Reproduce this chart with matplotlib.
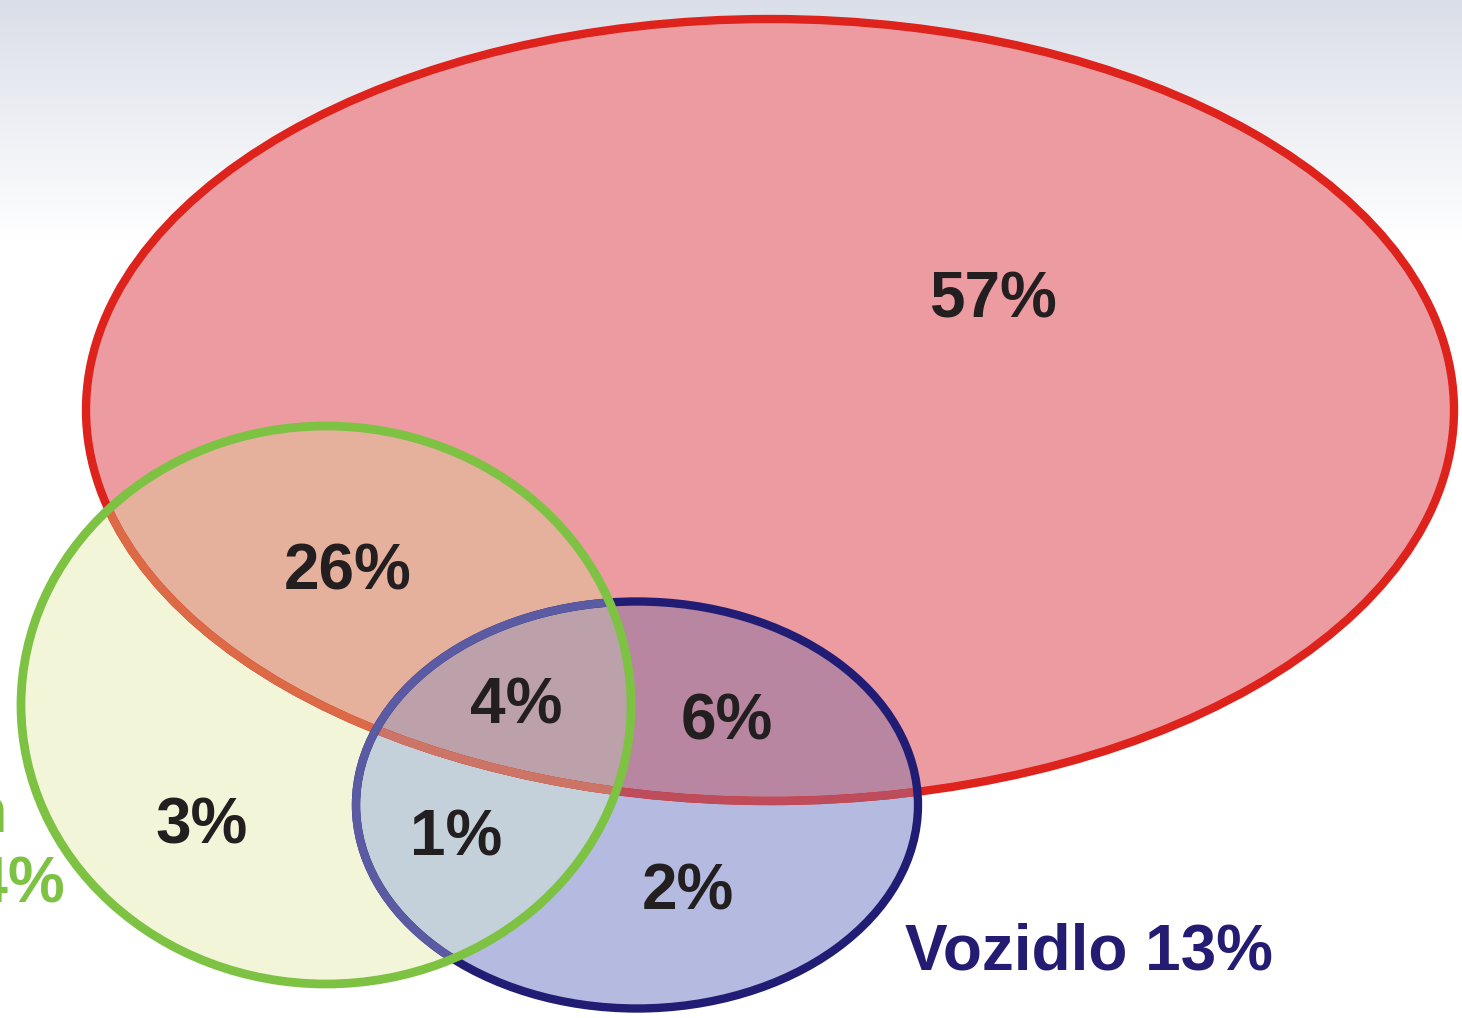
import numpy as np
import matplotlib
matplotlib.use("Agg")
import matplotlib.pyplot as plt
from matplotlib.patches import Ellipse, Polygon

# ---- data ----
set_names = ["Lidský faktor", "Komunikace", "Vozidlo"]
set_totals = [93, 34, 13]
# regions: R only, R&G, R&G&B, R&B, G only, G&B, B only
region_values = [57, 26, 4, 6, 3, 1, 2]

# ---- layout (pixels, y down) ----
W, H = 1462, 1018
red_geo = (770, 410, 1368, 782)
green_geo = (326, 705, 610, 558)
blue_geo = (637, 805, 562, 407)

fig = plt.figure(figsize=(W / 100, H / 100), dpi=100)
ax = fig.add_axes([0, 0, 1, 1])
ax.set_xlim(0, W)
ax.set_ylim(H, 0)
ax.axis("off")

# background gradient
top = np.array([0xDA, 0xDE, 0xE8]) / 255
ys = np.linspace(0, 1, H)
f = np.clip(ys * H / 240.0, 0, 1)[:, None]
grad = top[None, :] * (1 - f) + np.ones(3)[None, :] * f
ax.imshow(grad[:, None, :], extent=(0, W, H, 0), aspect="auto", zorder=0)


def ell_pts(geo, n=400):
    cx, cy, w, h = geo
    t = np.linspace(0, 2 * np.pi, n, endpoint=False)
    return np.c_[cx + w / 2 * np.cos(t), cy + h / 2 * np.sin(t)]


def clip_poly(subject, clipper):
    out = list(map(tuple, subject))
    m = len(clipper)
    for i in range(m):
        a = clipper[i]
        b = clipper[(i + 1) % m]
        inp = out
        out = []
        if not inp:
            break

        def inside(p):
            return (b[0] - a[0]) * (p[1] - a[1]) - (b[1] - a[1]) * (p[0] - a[0]) >= 0

        def inter(p, q):
            x1, y1 = p; x2, y2 = q; x3, y3 = a; x4, y4 = b
            den = (x1 - x2) * (y3 - y4) - (y1 - y2) * (x3 - x4)
            t = ((x1 - x3) * (y3 - y4) - (y1 - y3) * (x3 - x4)) / den
            return (x1 + t * (x2 - x1), y1 + t * (y2 - y1))

        s = inp[-1]
        for e in inp:
            if inside(e):
                if not inside(s):
                    out.append(inter(s, e))
                out.append(e)
            elif inside(s):
                out.append(inter(s, e))
            s = e
    return np.array(out)


R, G, B = ell_pts(red_geo), ell_pts(green_geo), ell_pts(blue_geo)
RG = clip_poly(R, G)
RB = clip_poly(R, B)
GB = clip_poly(G, B)
RGB = clip_poly(RG, B)

fills = [
    (R, "#EC9BA0"),
    (G, "#F2F5D8"),
    (B, "#B5BAE0"),
    (RG, "#E5B09C"),
    (RB, "#B886A1"),
    (GB, "#C4D1DA"),
    (RGB, "#BCA1AA"),
]
for pts, col in fills:
    ax.add_patch(Polygon(pts, closed=True, facecolor=col, edgecolor="none", zorder=1))


def edge(geo, color, lw, clip=None, z=2):
    cx, cy, w, h = geo
    e = Ellipse((cx, cy), w, h, fill=False, edgecolor=color, linewidth=lw, zorder=z)
    ax.add_patch(e)
    if clip is not None:
        cp = Polygon(clip, closed=True, transform=ax.transData)
        e.set_clip_path(cp)
    return e


lw = 6.0
edge(red_geo, "#DE221C", lw, z=2)
edge(red_geo, "#BE4C5A", lw, clip=B, z=2.1)
edge(red_geo, "#DC6A46", lw, clip=G, z=2.2)
edge(red_geo, "#CC7466", lw, clip=GB, z=2.3)
edge(blue_geo, "#211C74", lw, z=3)
edge(blue_geo, "#5A5BA3", lw, clip=G, z=3.1)
edge(green_geo, "#7DC242", 6.3, z=4)

# ---- texts ----
txt = dict(fontfamily="Liberation Sans", fontweight="bold", fontsize=46,
           color="#231F20", ha="center", va="center", zorder=5)
label_pos = [(993, 300), (348, 573), (516, 707), (727, 722),
             (202, 826), (456, 838), (688, 893)]
for v, (x, y) in zip(region_values, label_pos):
    ax.text(x, y, f"{v}%", **txt)

ax.text(905, 952, f"{set_names[2]} {set_totals[2]}%", fontfamily="Liberation Sans",
        fontweight="bold", fontsize=46, color="#241C72", ha="left", va="center", zorder=5)
ax.text(505, -15, f"{set_names[0]} {set_totals[0]}%", fontfamily="Liberation Sans",
        fontweight="bold", fontsize=46, color="#DE221C", ha="left", va="baseline", zorder=5)
ax.text(8, 832, "a terén", fontfamily="Liberation Sans",
        fontweight="bold", fontsize=46, color="#7DC242", ha="right", va="baseline", zorder=5)
ax.text(65, 884, f"{set_names[1]} {set_totals[1]}%", fontfamily="Liberation Sans",
        fontweight="bold", fontsize=46, color="#7DC242", ha="right", va="center", zorder=5)

fig.savefig("out.png", dpi=100)
